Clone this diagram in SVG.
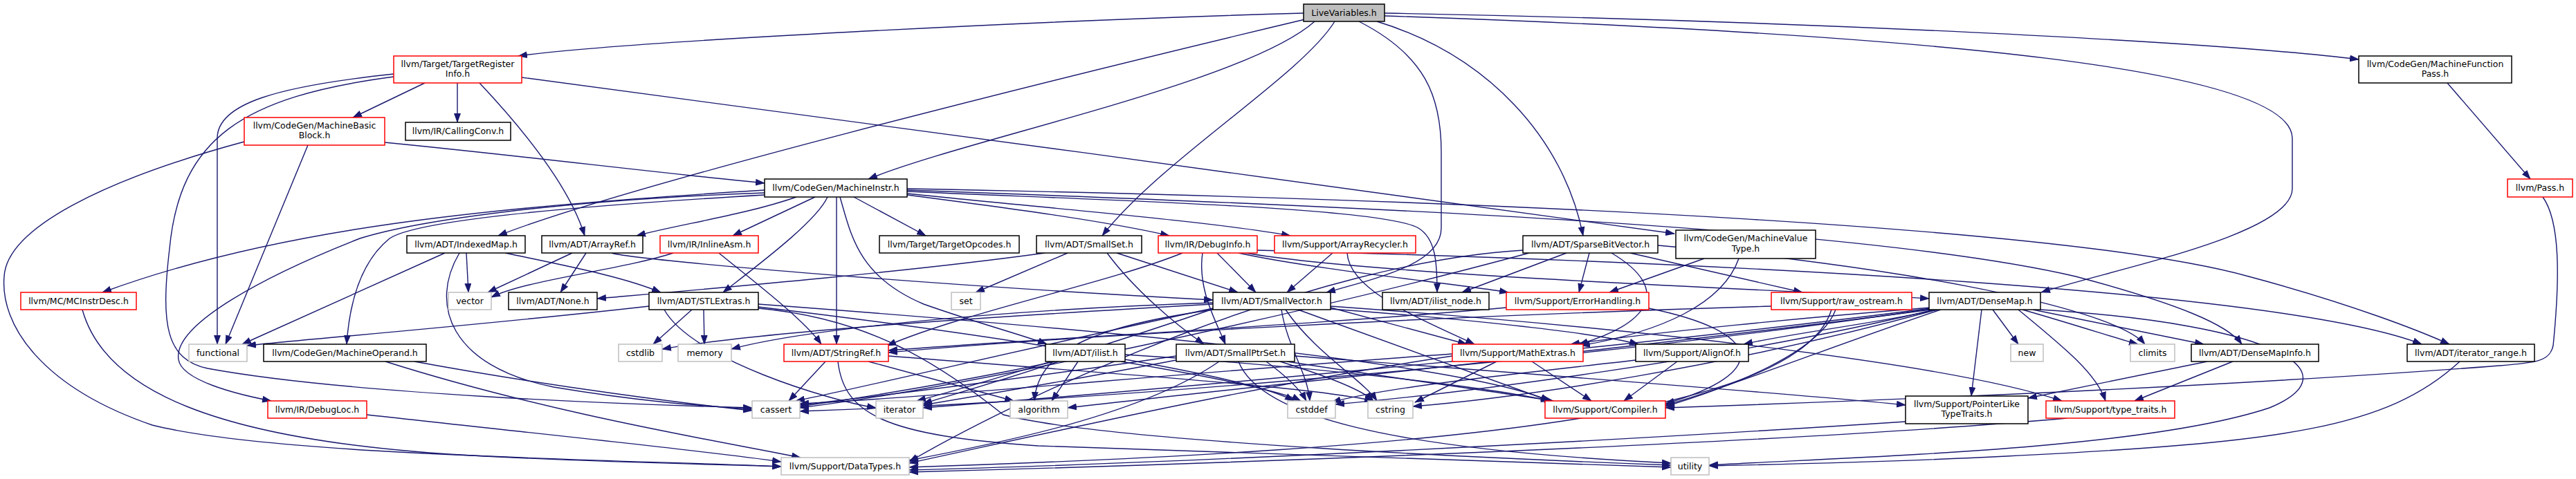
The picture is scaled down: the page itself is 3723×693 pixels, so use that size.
<svg xmlns="http://www.w3.org/2000/svg" width="3723" height="693" viewBox="0 0 3723 693">
<defs>
<marker id="ah" markerUnits="userSpaceOnUse" markerWidth="14" markerHeight="10" viewBox="0 0 14 10" refX="13" refY="5" orient="auto">
<path d="M0,0 L14,5 L0,10 z" fill="#191970"/>
</marker>
<style>
.e path{fill:none;stroke:#191970;stroke-width:1.4;marker-end:url(#ah)}
.node rect{fill:#fff;stroke:#000;stroke-width:1.5}
.node.r rect{stroke:#ff0000}
.node.g rect{stroke:#bfbfbf}
.node.root rect{fill:#bfbfbf;stroke:#000}
.node text{font-family:"DejaVu Sans","Liberation Sans",sans-serif;font-size:12.5px;text-anchor:middle;fill:#000}
</style>
</defs>
<rect width="3723" height="693" fill="#fff"/>
<g id="edges" class="e">
<path d="M1884,19 C1500,30 900,60 749,81"/>
<path d="M1900,31 C1800,120 1400,200 1255,259"/>
<path d="M1886,28 C1500,120 900,270 720,341"/>
<path d="M1929,31 C1880,110 1680,230 1593,341"/>
<path d="M1964,31 C2060,80 2083,140 2083,220 L2083,330 C2083,380 2000,400 1917,423"/>
<path d="M1990,31 C2150,80 2260,200 2288,341"/>
<path d="M2001,19 C2600,30 3200,60 3409,86"/>
<path d="M2001,23 C2800,50 3313,100 3313,200 L3313,273 C3313,340 3050,390 2950,423"/>
<path d="M614,120 L510,170"/>
<path d="M661,120 L661,177"/>
<path d="M693,120 C740,170 820,260 845,341"/>
<path d="M754,112 C1200,170 2000,280 2420,338"/>
<path d="M569,107 C400,125 314,150 314,200 L314,498"/>
<path d="M569,111 C350,140 260,200 245,360 C232,470 240,520 300,533 C500,570 900,585 1087,590"/>
<path d="M3537,120 L3657,259"/>
<path d="M3675,285 C3700,320 3700,400 3690,500 C3685,525 3660,525 3600,530 C3200,560 2700,580 2407,590"/>
<path d="M556,206 C750,225 950,250 1105,265"/>
<path d="M353,205 C150,260 10,330 6,400 C0,470 60,560 220,615 C400,660 900,665 1129,675"/>
<path d="M445,210 L326,498"/>
<path d="M1105,275 C700,300 400,330 148,423"/>
<path d="M1105,279 C800,290 600,320 520,345 C380,400 250,470 258,520 C262,550 340,570 392,580"/>
<path d="M1105,282 C800,300 600,320 563,345 C520,380 505,440 501,498"/>
<path d="M1151,285 C1080,310 980,325 920,341"/>
<path d="M1178,285 L1059,341"/>
<path d="M1196,285 C1180,320 1100,380 1045,423"/>
<path d="M1209,285 L1209,498"/>
<path d="M1214,285 C1230,340 1240,400 1335,440 C1420,470 1480,485 1513,498"/>
<path d="M1234,285 L1338,341"/>
<path d="M1311,282 C1450,300 1600,320 1690,341"/>
<path d="M1311,280 C1500,300 1750,320 1865,341"/>
<path d="M1311,277 C1600,290 2000,300 2050,330 C2075,345 2077,380 2077,423"/>
<path d="M1311,275 C2000,300 2700,330 3000,400 C3150,440 3220,470 3240,498"/>
<path d="M1311,273 C2200,290 3000,330 3250,400 C3400,440 3500,480 3540,498"/>
<path d="M730,366 C820,385 900,400 955,423"/>
<path d="M664,366 C620,440 650,530 800,560 C950,585 1040,588 1087,592"/>
<path d="M643,366 L350,498"/>
<path d="M674,366 L677,423"/>
<path d="M847,366 L810,423"/>
<path d="M827,366 L705,423"/>
<path d="M884,366 C910,375 1300,410 1753,434"/>
<path d="M1039,366 C1080,400 1160,460 1187,498"/>
<path d="M973,366 C900,390 760,405 710,430"/>
<path d="M1543,366 L1410,423"/>
<path d="M1510,366 C1300,395 1000,420 863,432"/>
<path d="M1600,366 C1640,420 1700,470 1740,498"/>
<path d="M1614,366 L1789,423"/>
<path d="M1709,366 C1600,410 1400,450 1282,500"/>
<path d="M1738,366 C1730,420 1760,470 1771,498"/>
<path d="M1759,366 L1815,423"/>
<path d="M1800,366 C2000,400 2600,420 2788,432"/>
<path d="M1790,366 C1900,390 2100,410 2180,423"/>
<path d="M1817,362 C2500,380 3300,420 3500,498"/>
<path d="M1926,366 L1860,423"/>
<path d="M1947,366 C1950,420 2050,460 2131,498"/>
<path d="M2264,366 L2113,423"/>
<path d="M2297,366 L2282,423"/>
<path d="M2329,366 C2420,420 2380,470 2282,498"/>
<path d="M2356,366 L2605,423"/>
<path d="M2201,362 C1900,380 1500,560 1314,668"/>
<path d="M2210,366 C1900,450 1400,560 1156,590"/>
<path d="M2396,355 C2700,380 3050,440 3100,498"/>
<path d="M2463,374 L2326,423"/>
<path d="M2513,374 C2490,440 2400,480 2285,500"/>
<path d="M119,448 C150,560 300,640 700,660 C900,670 1050,672 1129,675"/>
<path d="M1000,448 L944,498"/>
<path d="M1017,448 L1018,498"/>
<path d="M938,443 C700,470 450,490 357,500"/>
<path d="M960,448 C1000,520 1200,580 1266,590"/>
<path d="M1096,440 C1500,470 2100,520 2240,580"/>
<path d="M1096,444 C1400,480 1800,540 1870,580"/>
<path d="M1096,446 C1250,460 1350,520 1450,600 C1600,640 2200,665 2415,673"/>
<path d="M1852,448 C1860,500 1890,540 1893,580"/>
<path d="M1858,448 C1900,510 1970,550 1990,580"/>
<path d="M1876,448 L2240,580"/>
<path d="M1923,445 L2120,498"/>
<path d="M1923,447 C2100,460 2300,480 2368,498"/>
<path d="M1923,443 C2300,470 2800,520 2980,580"/>
<path d="M1753,448 C1600,470 1500,500 1495,580"/>
<path d="M1753,446 C1500,500 1250,560 1150,580"/>
<path d="M1753,440 C1400,460 1100,480 957,505"/>
<path d="M1753,447 C1600,500 1400,560 1325,580"/>
<path d="M1753,438 C1400,450 1150,480 1057,505"/>
<path d="M2177,445 C1900,470 1500,490 1284,507"/>
<path d="M2383,446 C2550,480 2560,540 2407,584"/>
<path d="M2560,443 C2000,460 1500,490 1284,510"/>
<path d="M2653,448 C2630,510 2500,560 2407,588"/>
<path d="M2647,448 C2600,600 2100,650 1314,676"/>
<path d="M2938,448 L3185,498"/>
<path d="M2800,448 C2700,470 2600,480 2520,498"/>
<path d="M2805,448 C2650,500 2500,560 2407,586"/>
<path d="M2790,445 C2600,460 2400,480 2270,498"/>
<path d="M2864,448 L2849,573"/>
<path d="M2917,448 C2980,500 3030,540 3043,580"/>
<path d="M2790,448 C2400,500 1800,560 1543,590"/>
<path d="M2790,447 C2300,520 1600,580 1156,595"/>
<path d="M2923,448 C3000,470 3060,490 3090,498"/>
<path d="M2795,448 C2500,520 2100,570 1930,585"/>
<path d="M2800,448 C2500,530 2200,575 2042,588"/>
<path d="M2790,446 C2300,510 1600,570 1334,590"/>
<path d="M2880,448 L2917,498"/>
<path d="M2949,448 C3300,470 3400,540 3280,590 C3100,650 2700,660 2470,673"/>
<path d="M557,523 C800,600 1050,640 1157,662"/>
<path d="M599,523 C800,560 1000,585 1087,594"/>
<path d="M1193,523 L1140,580"/>
<path d="M1211,523 C1220,600 1280,630 1500,645 C1900,660 2200,668 2415,676"/>
<path d="M1255,523 L1465,580"/>
<path d="M1284,515 C1600,540 1900,560 1985,580"/>
<path d="M1558,523 L1520,580"/>
<path d="M1525,523 C1400,550 1250,575 1156,588"/>
<path d="M1530,523 C1450,550 1380,570 1334,584"/>
<path d="M1626,513 C1900,530 2150,560 2240,580"/>
<path d="M1620,523 C1750,545 1850,565 1880,580"/>
<path d="M1860,523 C2000,545 2150,565 2245,580"/>
<path d="M1762,523 C1650,600 1450,640 1314,666"/>
<path d="M1871,515 C2200,540 2600,570 2754,586"/>
<path d="M1700,515 C1500,545 1250,575 1156,586"/>
<path d="M1830,523 C1860,545 1880,565 1888,580"/>
<path d="M1850,523 C1920,545 1970,565 1985,580"/>
<path d="M1705,520 C1550,550 1400,575 1334,586"/>
<path d="M1790,523 C1820,600 2000,650 2415,670"/>
<path d="M2214,523 L2300,580"/>
<path d="M2163,523 L2045,582"/>
<path d="M2099,515 C1800,560 1500,630 1314,670"/>
<path d="M2099,512 C1700,540 1350,575 1156,584"/>
<path d="M2424,523 L2347,580"/>
<path d="M2364,521 C2200,540 2000,560 1925,582"/>
<path d="M3190,523 L2931,576"/>
<path d="M3227,523 L3085,580"/>
<path d="M3555,523 C3450,620 3300,640 2900,660 C2700,670 2550,672 2470,674"/>
<path d="M2754,610 C2300,640 1700,670 1314,680"/>
<path d="M2987,605 C2600,640 1800,670 1314,683"/>
<path d="M530,600 C800,630 1000,650 1129,668"/>
</g>
<g id="LiveVariables" class="node root"><rect x="1884" y="6" width="117" height="25"/><text x="1942.5" y="23">LiveVariables.h</text></g>
<g id="TargetRegisterInfo" class="node r"><rect x="569" y="81" width="185" height="39"/><text x="661.5" y="97">llvm/Target/TargetRegister</text><text x="661.5" y="111">Info.h</text></g>
<g id="MachineFunctionPass" class="node"><rect x="3409" y="81" width="221" height="39"/><text x="3519.5" y="97">llvm/CodeGen/MachineFunction</text><text x="3519.5" y="111">Pass.h</text></g>
<g id="MachineBasicBlock" class="node r"><rect x="353" y="170" width="203" height="40"/><text x="454.5" y="186">llvm/CodeGen/MachineBasic</text><text x="454.5" y="200">Block.h</text></g>
<g id="CallingConv" class="node"><rect x="586" y="177" width="152" height="26"/><text x="662" y="194">llvm/IR/CallingConv.h</text></g>
<g id="MachineInstr" class="node"><rect x="1105" y="259" width="206" height="26"/><text x="1208" y="276">llvm/CodeGen/MachineInstr.h</text></g>
<g id="Pass" class="node r"><rect x="3624" y="259" width="94" height="26"/><text x="3671" y="276">llvm/Pass.h</text></g>
<g id="IndexedMap" class="node"><rect x="588" y="341" width="171" height="25"/><text x="673.5" y="358">llvm/ADT/IndexedMap.h</text></g>
<g id="ArrayRef" class="node"><rect x="783" y="341" width="146" height="25"/><text x="856" y="358">llvm/ADT/ArrayRef.h</text></g>
<g id="InlineAsm" class="node r"><rect x="954" y="341" width="142" height="25"/><text x="1025" y="358">llvm/IR/InlineAsm.h</text></g>
<g id="TargetOpcodes" class="node"><rect x="1271" y="341" width="202" height="25"/><text x="1372" y="358">llvm/Target/TargetOpcodes.h</text></g>
<g id="SmallSet" class="node"><rect x="1498" y="341" width="152" height="25"/><text x="1574" y="358">llvm/ADT/SmallSet.h</text></g>
<g id="DebugInfo" class="node r"><rect x="1674" y="341" width="143" height="25"/><text x="1745.5" y="358">llvm/IR/DebugInfo.h</text></g>
<g id="ArrayRecycler" class="node r"><rect x="1842" y="341" width="204" height="25"/><text x="1944" y="358">llvm/Support/ArrayRecycler.h</text></g>
<g id="SparseBitVector" class="node"><rect x="2201" y="341" width="195" height="25"/><text x="2298.5" y="358">llvm/ADT/SparseBitVector.h</text></g>
<g id="MachineValueType" class="node"><rect x="2422" y="333" width="202" height="41"/><text x="2523" y="349">llvm/CodeGen/MachineValue</text><text x="2523" y="364">Type.h</text></g>
<g id="MCInstrDesc" class="node r"><rect x="30" y="423" width="167" height="25"/><text x="113.5" y="440">llvm/MC/MCInstrDesc.h</text></g>
<g id="vector" class="node g"><rect x="648" y="423" width="62" height="25"/><text x="679" y="440">vector</text></g>
<g id="None" class="node"><rect x="735" y="423" width="128" height="25"/><text x="799" y="440">llvm/ADT/None.h</text></g>
<g id="STLExtras" class="node"><rect x="938" y="423" width="158" height="25"/><text x="1017" y="440">llvm/ADT/STLExtras.h</text></g>
<g id="set" class="node g"><rect x="1375" y="423" width="42" height="25"/><text x="1396" y="440">set</text></g>
<g id="SmallVector" class="node"><rect x="1753" y="423" width="170" height="25"/><text x="1838" y="440">llvm/ADT/SmallVector.h</text></g>
<g id="ilist_node" class="node"><rect x="1998" y="423" width="154" height="25"/><text x="2075" y="440">llvm/ADT/ilist_node.h</text></g>
<g id="ErrorHandling" class="node r"><rect x="2177" y="423" width="206" height="25"/><text x="2280" y="440">llvm/Support/ErrorHandling.h</text></g>
<g id="raw_ostream" class="node r"><rect x="2560" y="423" width="203" height="25"/><text x="2661.5" y="440">llvm/Support/raw_ostream.h</text></g>
<g id="DenseMap" class="node"><rect x="2788" y="423" width="161" height="25"/><text x="2868.5" y="440">llvm/ADT/DenseMap.h</text></g>
<g id="functional" class="node g"><rect x="273" y="498" width="84" height="25"/><text x="315" y="515">functional</text></g>
<g id="MachineOperand" class="node"><rect x="381" y="498" width="235" height="25"/><text x="498.5" y="515">llvm/CodeGen/MachineOperand.h</text></g>
<g id="cstdlib" class="node g"><rect x="894" y="498" width="63" height="25"/><text x="925.5" y="515">cstdlib</text></g>
<g id="memory" class="node g"><rect x="980" y="498" width="77" height="25"/><text x="1018.5" y="515">memory</text></g>
<g id="StringRef" class="node r"><rect x="1133" y="498" width="151" height="25"/><text x="1208.5" y="515">llvm/ADT/StringRef.h</text></g>
<g id="ilist" class="node"><rect x="1511" y="498" width="115" height="25"/><text x="1568.5" y="515">llvm/ADT/ilist.h</text></g>
<g id="SmallPtrSet" class="node"><rect x="1700" y="498" width="171" height="25"/><text x="1785.5" y="515">llvm/ADT/SmallPtrSet.h</text></g>
<g id="MathExtras" class="node r"><rect x="2099" y="498" width="189" height="25"/><text x="2193.5" y="515">llvm/Support/MathExtras.h</text></g>
<g id="AlignOf" class="node"><rect x="2364" y="498" width="163" height="25"/><text x="2445.5" y="515">llvm/Support/AlignOf.h</text></g>
<g id="new" class="node g"><rect x="2906" y="498" width="47" height="25"/><text x="2929.5" y="515">new</text></g>
<g id="climits" class="node g"><rect x="3079" y="498" width="64" height="25"/><text x="3111" y="515">climits</text></g>
<g id="DenseMapInfo" class="node"><rect x="3167" y="498" width="184" height="25"/><text x="3259" y="515">llvm/ADT/DenseMapInfo.h</text></g>
<g id="iterator_range" class="node"><rect x="3479" y="498" width="184" height="25"/><text x="3571" y="515">llvm/ADT/iterator_range.h</text></g>
<g id="DebugLoc" class="node r"><rect x="387" y="580" width="143" height="25"/><text x="458.5" y="597">llvm/IR/DebugLoc.h</text></g>
<g id="cassert" class="node g"><rect x="1087" y="580" width="69" height="25"/><text x="1121.5" y="597">cassert</text></g>
<g id="iterator" class="node g"><rect x="1266" y="580" width="68" height="25"/><text x="1300" y="597">iterator</text></g>
<g id="algorithm" class="node g"><rect x="1460" y="580" width="83" height="25"/><text x="1501.5" y="597">algorithm</text></g>
<g id="cstddef" class="node g"><rect x="1861" y="580" width="69" height="25"/><text x="1895.5" y="597">cstddef</text></g>
<g id="cstring" class="node g"><rect x="1977" y="580" width="65" height="25"/><text x="2009.5" y="597">cstring</text></g>
<g id="Compiler" class="node r"><rect x="2233" y="580" width="174" height="25"/><text x="2320" y="597">llvm/Support/Compiler.h</text></g>
<g id="PointerLikeTypeTraits" class="node"><rect x="2754" y="573" width="177" height="40"/><text x="2842.5" y="589">llvm/Support/PointerLike</text><text x="2842.5" y="603">TypeTraits.h</text></g>
<g id="type_traits" class="node r"><rect x="2957" y="580" width="186" height="25"/><text x="3050" y="597">llvm/Support/type_traits.h</text></g>
<g id="DataTypes" class="node g"><rect x="1129" y="662" width="185" height="25"/><text x="1221.5" y="679">llvm/Support/DataTypes.h</text></g>
<g id="utility" class="node g"><rect x="2415" y="662" width="55" height="25"/><text x="2442.5" y="679">utility</text></g>
</svg>
